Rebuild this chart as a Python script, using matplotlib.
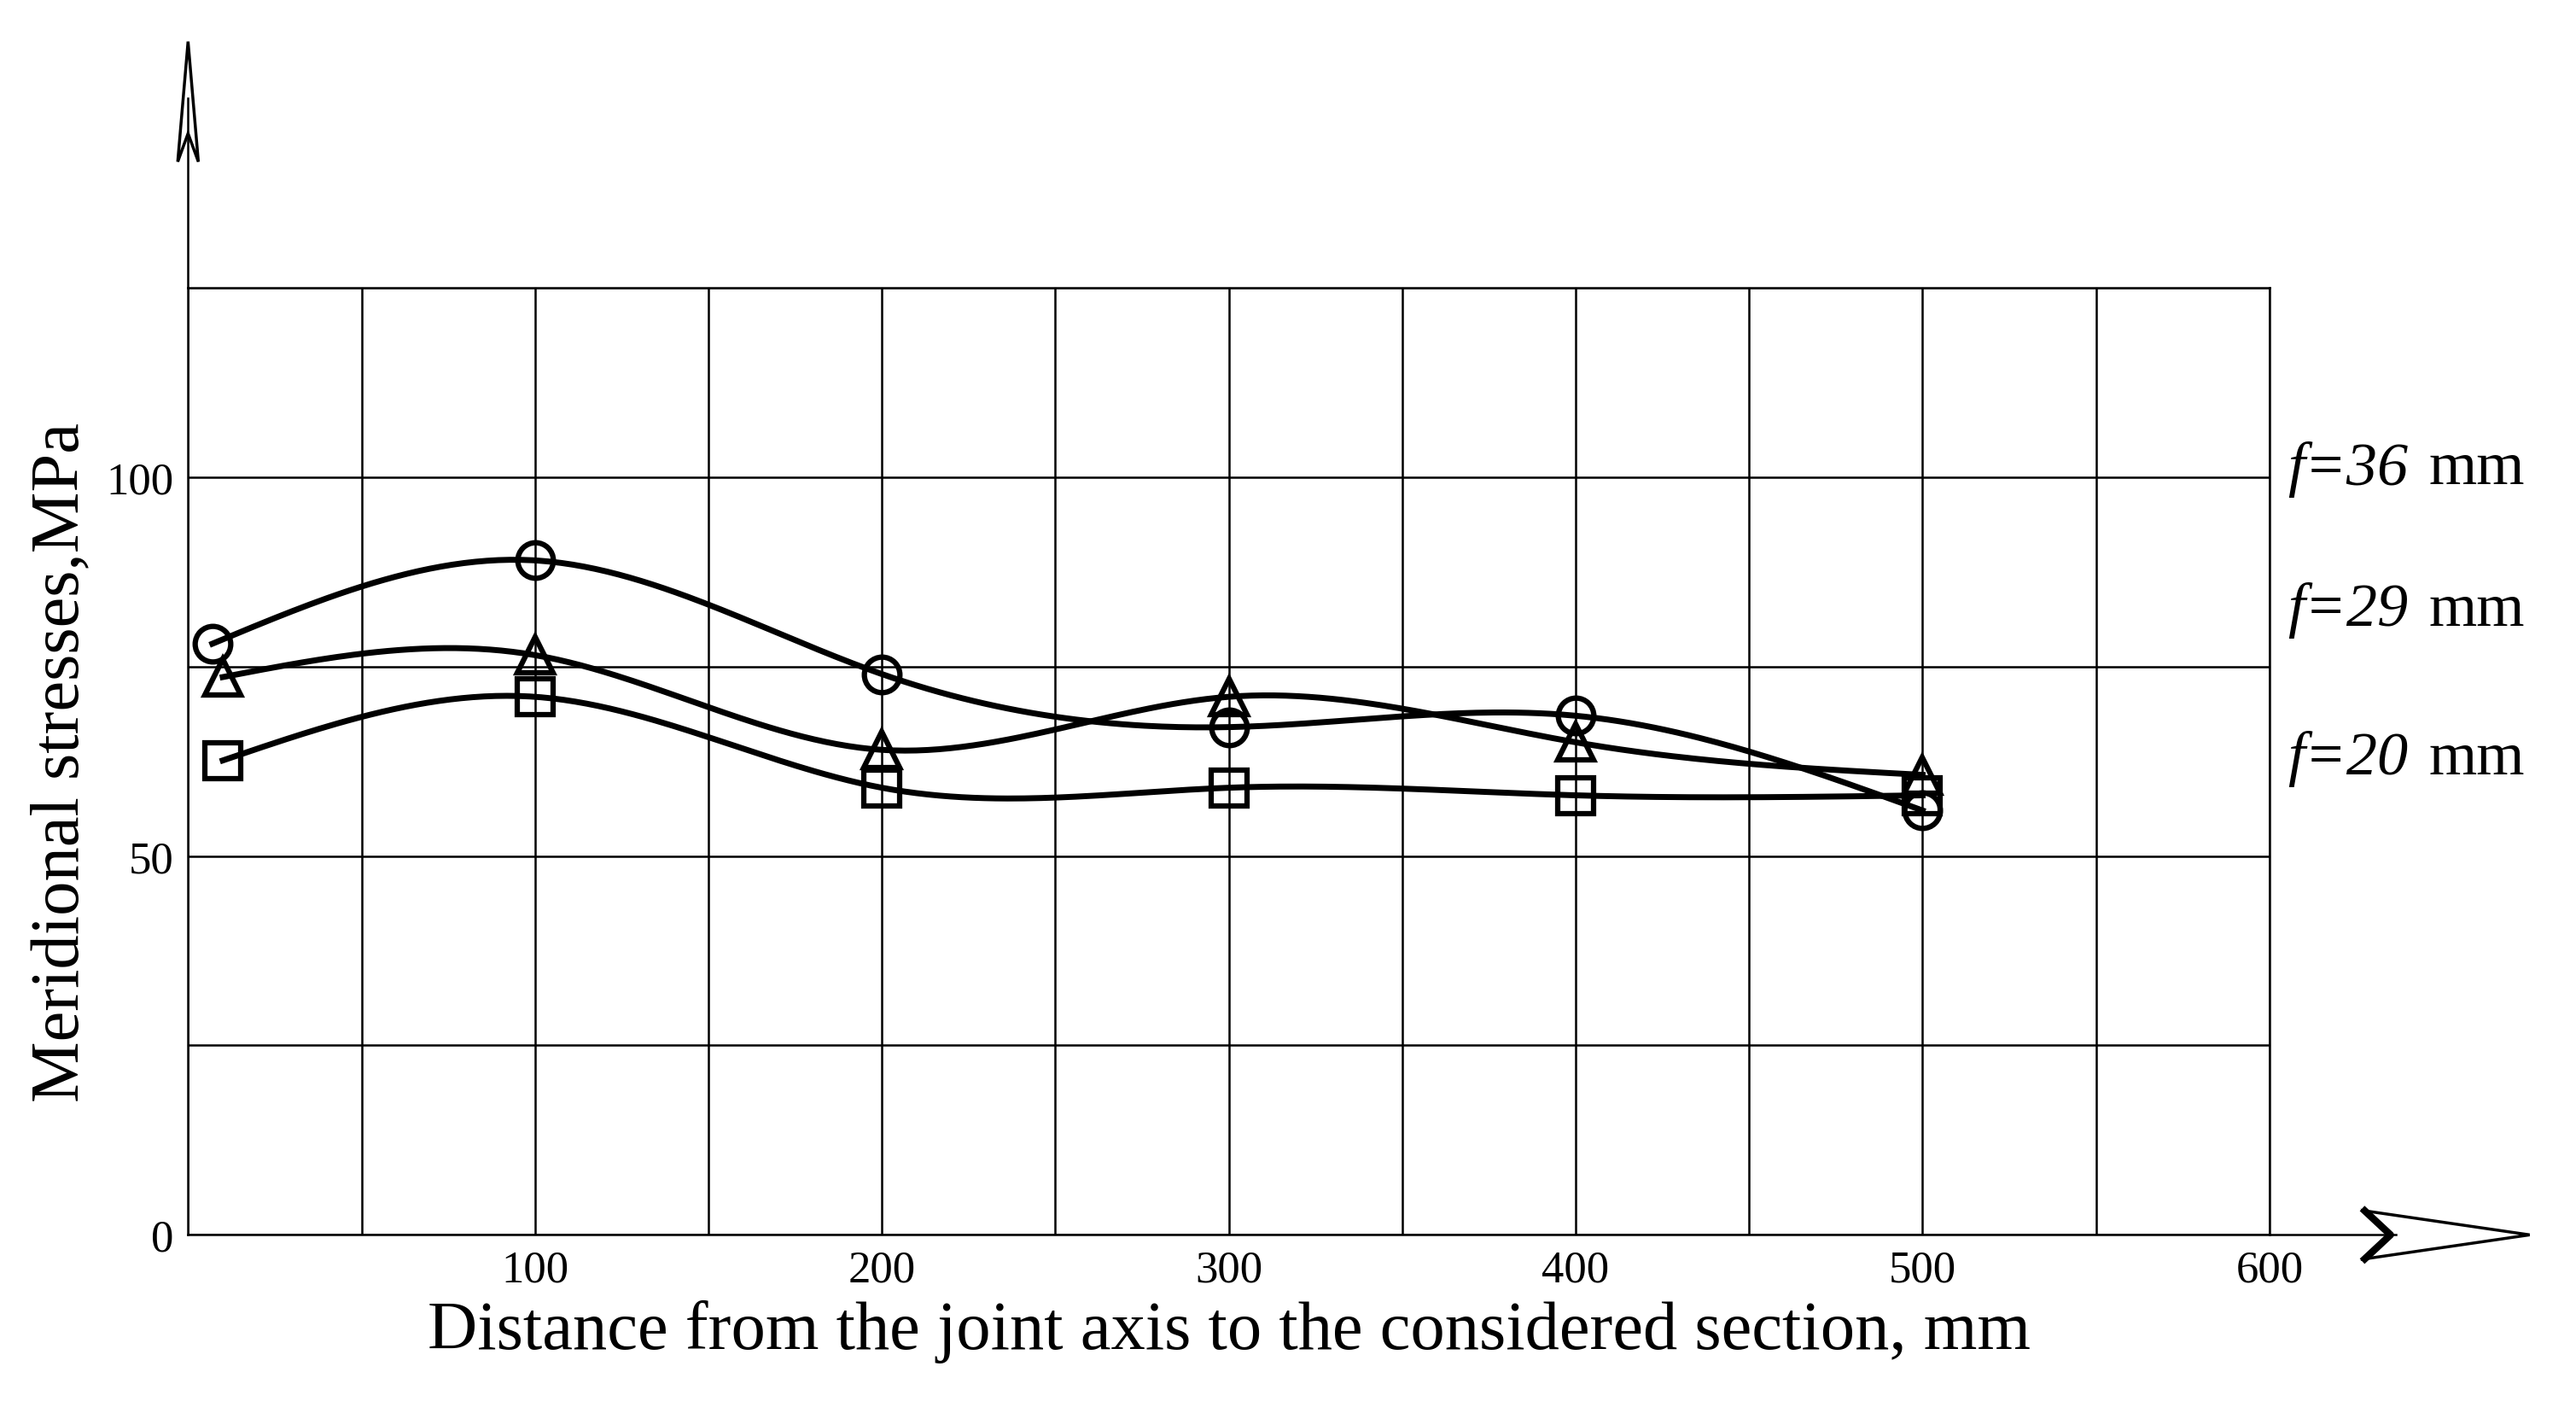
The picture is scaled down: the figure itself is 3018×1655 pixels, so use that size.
import numpy as np
import matplotlib
matplotlib.use("Agg")
import matplotlib.pyplot as plt
from matplotlib.patches import Polygon
from matplotlib.lines import Line2D

plt.rcParams['font.family'] = ['Liberation Serif', 'DejaVu Serif']

x_c = [7, 100, 200, 300, 400, 500]
y_c = [78, 89, 74, 67, 68.5, 56]
x_t = [10, 100, 200, 300, 400, 500]
y_t = [73.6, 76.5, 64, 71, 65, 60.7]
x_s = [10, 100, 200, 300, 400, 500]
y_s = [62.6, 71, 59, 59, 58, 58]
xticks = [100, 200, 300, 400, 500, 600]
yticks = [0, 50, 100]
labels = ["f=36", "f=29", "f=20"]

def spline(x, y, n=300):
    x = np.asarray(x, float); y = np.asarray(y, float)
    m = len(x); h = np.diff(x)
    A = np.zeros((m, m)); b = np.zeros(m)
    A[0, 0] = A[-1, -1] = 1
    for i in range(1, m - 1):
        A[i, i - 1] = h[i - 1]; A[i, i] = 2 * (h[i - 1] + h[i]); A[i, i + 1] = h[i]
        b[i] = 6 * ((y[i + 1] - y[i]) / h[i] - (y[i] - y[i - 1]) / h[i - 1])
    M = np.linalg.solve(A, b)
    xs = np.linspace(x[0], x[-1], n); ys = np.empty(n)
    for k, xv in enumerate(xs):
        i = min(np.searchsorted(x, xv) - 1, m - 2); i = max(i, 0)
        t1 = x[i + 1] - xv; t0 = xv - x[i]
        ys[k] = (M[i] * t1**3 + M[i + 1] * t0**3) / (6 * h[i]) + (y[i] / h[i] - M[i] * h[i] / 6) * t1 + (y[i + 1] / h[i] - M[i + 1] * h[i] / 6) * t0
    return xs, ys

L, B, W, H = 0.073, 0.126, 0.808, 0.67
fig = plt.figure(figsize=(30.18, 16.56), dpi=100)
ax = fig.add_axes([L, B, W, H])
ax.set_xlim(0, 600); ax.set_ylim(0, 125)
ax.set_xticks(np.arange(0, 601, 50))
ax.set_yticks(np.arange(0, 126, 25))
ax.grid(True, color='black', lw=1.8)
ax.set_xticklabels([str(v) if v in xticks else '' for v in np.arange(0, 601, 50)], fontsize=38)
ax.set_yticklabels([str(v) if v in yticks else '' for v in np.arange(0, 126, 25)], fontsize=38)
ax.tick_params(length=0, pad=12)
for s in ax.spines.values():
    s.set_linewidth(1.8)

for xd, yd, mk in [(x_c, y_c, 'o'), (x_t, y_t, '^'), (x_s, y_s, 's')]:
    xs, ys = spline(xd, yd)
    ax.plot(xs, ys, color='black', lw=5)
    ax.plot(xd, yd, linestyle='none', marker=mk, ms=30, mfc='none', mec='black', mew=4.5)

# axis arrows (figure coords)
fig.add_artist(Line2D([L, L], [B + H, 0.93], color='black', lw=1.8, transform=fig.transFigure))
fig.add_artist(Polygon([[L - 0.004, 0.885], [L, 0.97], [L + 0.004, 0.885], [L, 0.905]], closed=True,
                       fc='white', ec='black', lw=2.5, transform=fig.transFigure))
fig.add_artist(Line2D([L + W, 0.93], [B, B], color='black', lw=1.8, transform=fig.transFigure))
fig.add_artist(Polygon([[0.918, B + 0.017], [0.982, B], [0.918, B - 0.017], [0.928, B]], closed=True,
                       fc='white', ec='black', lw=2.5, transform=fig.transFigure))
fig.add_artist(Line2D([0.918, 0.928, 0.918], [B + 0.017, B, B - 0.017], color='black', lw=6,
                      transform=fig.transFigure))

for lab, yy in zip(labels, [0.668, 0.568, 0.463]):
    fig.text(0.888, yy, lab, fontsize=52, style='italic', va='center')
    fig.text(0.943, yy, "mm", fontsize=52, va='center')

ax.set_xlabel("Distance from the joint axis to the considered section, mm", fontsize=58, labelpad=8)
ax.set_ylabel("Meridional stresses,MPa", fontsize=58, labelpad=12)
fig.savefig("out.png", dpi=100)
